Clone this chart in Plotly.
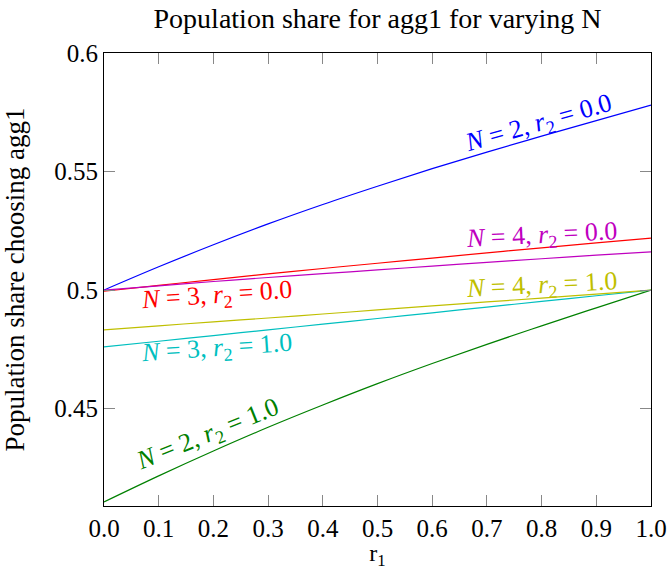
import plotly.graph_objects as go

r1 = [0.0, 0.1, 0.2, 0.3, 0.4, 0.5, 0.6, 0.7, 0.8, 0.9, 1.0]

n2_r0 = [0.5000, 0.5098, 0.5191, 0.5279, 0.5361, 0.5438, 0.5512, 0.5582, 0.5649, 0.5715, 0.5780]
n2_r1 = [0.4106, 0.4216, 0.4321, 0.4421, 0.4515, 0.4605, 0.4690, 0.4771, 0.4849, 0.4925, 0.5000]
n3_r0 = [0.4995, 0.5020, 0.5044, 0.5068, 0.5091, 0.5113, 0.5135, 0.5157, 0.5178, 0.5199, 0.5219]
n3_r1 = [0.4760, 0.4784, 0.4808, 0.4832, 0.4856, 0.4880, 0.4904, 0.4928, 0.4952, 0.4976, 0.5000]
n4_r0 = [0.5000, 0.5018, 0.5036, 0.5053, 0.5069, 0.5085, 0.5101, 0.5117, 0.5132, 0.5147, 0.5161]
n4_r1 = [0.4832, 0.4849, 0.4866, 0.4882, 0.4899, 0.4916, 0.4933, 0.4950, 0.4966, 0.4983, 0.5000]

x_ticks = [0.0, 0.1, 0.2, 0.3, 0.4, 0.5, 0.6, 0.7, 0.8, 0.9, 1.0]
x_ticktext = ["0.0", "0.1", "0.2", "0.3", "0.4", "0.5", "0.6", "0.7", "0.8", "0.9", "1.0"]
y_ticks = [0.45, 0.5, 0.55, 0.6]
y_ticktext = ["0.45", "0.5", "0.55", "0.6"]

series = [
    ("N = 2, r2 = 0.0", n2_r0, "#0000ff"),
    ("N = 2, r2 = 1.0", n2_r1, "#008000"),
    ("N = 3, r2 = 0.0", n3_r0, "#ff0000"),
    ("N = 3, r2 = 1.0", n3_r1, "#00bfbf"),
    ("N = 4, r2 = 0.0", n4_r0, "#bf00bf"),
    ("N = 4, r2 = 1.0", n4_r1, "#bfbf00"),
]

# label text, position (data coords), angle
labels = [
    ("<i>N</i> = 2, <i>r</i><sub>2</sub> = 0.0", 0.795, 0.5700, -16, "#0000ff"),
    ("<i>N</i> = 2, <i>r</i><sub>2</sub> = 1.0", 0.190, 0.4390, -22, "#008000"),
    ("<i>N</i> = 3, <i>r</i><sub>2</sub> = 0.0", 0.205, 0.4975, -4, "#ff0000"),
    ("<i>N</i> = 3, <i>r</i><sub>2</sub> = 1.0", 0.205, 0.4750, -4, "#00bfbf"),
    ("<i>N</i> = 4, <i>r</i><sub>2</sub> = 0.0", 0.800, 0.5228, -3, "#bf00bf"),
    ("<i>N</i> = 4, <i>r</i><sub>2</sub> = 1.0", 0.800, 0.5018, -3, "#bfbf00"),
]

FONT = "Liberation Serif"

fig = go.Figure()
for name, ys, col in series:
    fig.add_trace(go.Scatter(x=r1, y=ys, mode="lines", name=name,
                             line=dict(color=col, width=1.2, shape="spline"),
                             showlegend=False))

for txt, x, y, ang, col in labels:
    fig.add_annotation(x=x, y=y, text=txt, showarrow=False, textangle=ang,
                       font=dict(family=FONT, size=26, color=col),
                       xanchor="center", yanchor="middle")

axis_common = dict(showgrid=False, zeroline=False, showline=True, automargin=False,
                   linecolor="black", linewidth=1, mirror="ticks",
                   ticks="inside", ticklen=11, tickcolor="#888888", tickwidth=1,
                   tickfont=dict(family=FONT, size=25, color="black"))

fig.update_xaxes(range=[0, 1], tickvals=x_ticks, ticktext=x_ticktext,
                 title=dict(text="r<sub>1</sub>", font=dict(family=FONT, size=24, color="black"), standoff=9),
                 **axis_common)
fig.update_yaxes(range=[0.4089, 0.6], tickvals=y_ticks, ticktext=y_ticktext,
                 title=dict(text="Population share choosing agg1", font=dict(family=FONT, size=27, color="black"), standoff=22),
                 **axis_common)

fig.update_layout(
    width=669, height=570,
    margin=dict(l=104, r=18, t=53, b=64),
    plot_bgcolor="white", paper_bgcolor="white",
    title=dict(text="Population share for agg1 for varying N", x=0.5, xanchor="center",
               xref="paper", y=0.968, yanchor="middle",
               font=dict(family=FONT, size=28, color="black")),
)

fig.write_html("out.html")
